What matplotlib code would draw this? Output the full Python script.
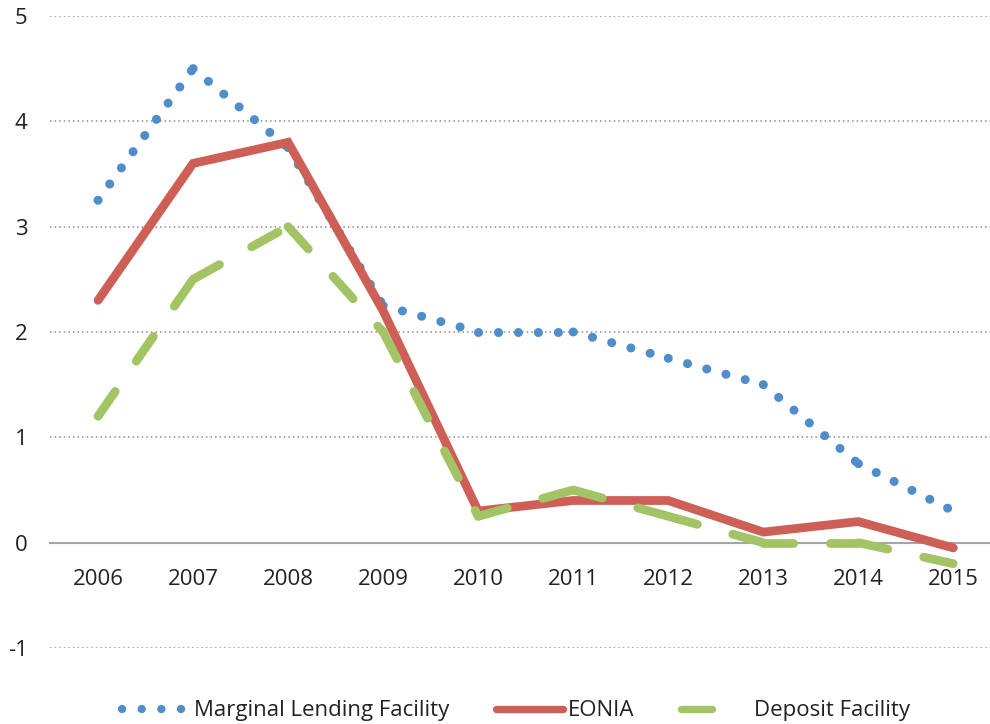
import matplotlib.pyplot as plt
from matplotlib.lines import Line2D

years = ['2006', '2007', '2008', '2009', '2010', '2011', '2012', '2013', '2014', '2015']
marginal_lending = [3.25, 4.5, 3.75, 2.25, 2.0, 2.0, 1.75, 1.5, 0.75, 0.3]
eonia = [2.3, 3.6, 3.8, 2.2, 0.3, 0.4, 0.4, 0.1, 0.2, -0.05]
deposit = [1.2, 2.5, 3.0, 2.0, 0.25, 0.5, 0.25, 0.0, 0.0, -0.2]

blue = '#4F8DCB'
red = '#CD5F57'
green = '#A3C465'

plt.rcParams['font.family'] = ['Open Sans', 'DejaVu Sans']
plt.rcParams['axes.unicode_minus'] = False

DOTS = (0, (0.01, 2.2))
DASH = (0, (3.45, 4.2))


def plot_segments(ax, xs, ys, **kw):
    # excel restarts the dash pattern on every segment
    for i in range(len(xs) - 1):
        ax.plot(xs[i:i + 2], ys[i:i + 2], **kw)


fig = plt.figure(figsize=(9.9, 7.24), dpi=100)
ax = fig.add_axes([0.051, 0.105, 0.96, 0.873])

x = list(range(len(years)))
plot_segments(ax, x, marginal_lending, color=blue, lw=6.5, linestyle=DOTS,
              dash_capstyle='round', zorder=3)
ax.plot(x, eonia, color=red, lw=6.3, solid_capstyle='round',
        solid_joinstyle='miter', zorder=4)
plot_segments(ax, x, deposit, color=green, lw=6.3, linestyle=DASH,
              dash_capstyle='round', zorder=5)

ax.set_xlim(-0.5, 9.5)
ax.set_ylim(-1, 5)
ax.set_yticks([-1, 0, 1, 2, 3, 4, 5])
ax.set_xticks(x)
ax.set_xticklabels(years)

# gridlines
for v in [-1, 1, 2, 3, 4, 5]:
    ax.axhline(v, color='#8C8C8C', lw=1.1, linestyle=(0, (1, 2)), zorder=1)

for s in ['top', 'right', 'left']:
    ax.spines[s].set_visible(False)
ax.spines['bottom'].set_position(('data', 0))
ax.spines['bottom'].set_color('#A6A6A6')
ax.spines['bottom'].set_linewidth(1.5)

ax.tick_params(axis='both', length=0, labelsize=16, colors='#222222')
ax.tick_params(axis='x', pad=19)
ax.tick_params(axis='y', pad=16.5)

handles = [
    Line2D([], [], color=blue, lw=6, linestyle=(0, (0.01, 2.35)), dash_capstyle='round'),
    Line2D([], [], color=red, lw=5.3, solid_capstyle='round'),
    Line2D([], [], color=green, lw=5.3, linestyle=(0, (4.2, 6)), dash_capstyle='round'),
]
labels = ['Marginal Lending Facility', 'EONIA', 'Deposit Facility']
fig.legend(handles, labels, loc='center', bbox_to_anchor=(0.521, 0.018), ncol=3,
           frameon=False, fontsize=16, handlelength=3.0, handletextpad=0.25,
           columnspacing=2.1, labelcolor='#222222')

fig.savefig('out.png', dpi=100)
